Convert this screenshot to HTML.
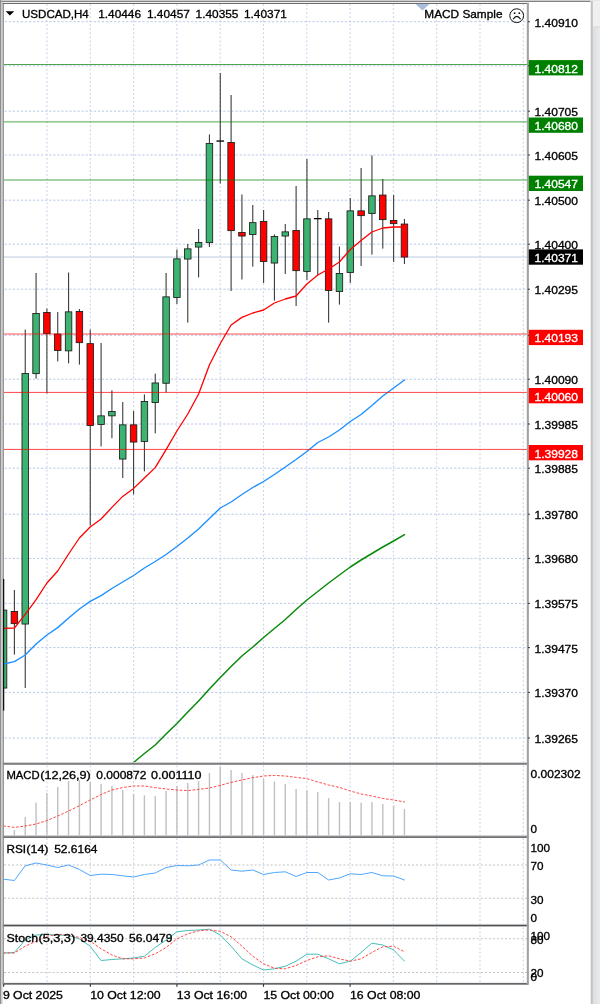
<!DOCTYPE html>
<html><head><meta charset="utf-8"><title>USDCAD,H4</title>
<style>html,body{margin:0;padding:0;background:#fff;}body{width:600px;height:1004px;overflow:hidden;}</style></head>
<body>
<svg width="600" height="1004" viewBox="0 0 600 1004" style="display:block" font-family="'Liberation Sans', sans-serif" font-size="11.7px">
<rect x="0" y="0" width="600" height="1004" fill="#ffffff"/>
<defs><clipPath id="cm"><rect x="3.8" y="4" width="523.7" height="759.2"/></clipPath><clipPath id="call"><rect x="3.8" y="4" width="523.7" height="980"/></clipPath><linearGradient id="rg" x1="0" x2="1" y1="0" y2="0"><stop offset="0" stop-color="#dcdddf"/><stop offset="1" stop-color="#e9eaec"/></linearGradient></defs>
<line x1="47.00" y1="4" x2="47.00" y2="984" stroke="#c6d3ea" stroke-width="1.1" stroke-dasharray="1.75 2.3"/>
<line x1="90.30" y1="4" x2="90.30" y2="984" stroke="#c6d3ea" stroke-width="1.1" stroke-dasharray="1.75 2.3"/>
<line x1="133.60" y1="4" x2="133.60" y2="984" stroke="#c6d3ea" stroke-width="1.1" stroke-dasharray="1.75 2.3"/>
<line x1="176.90" y1="4" x2="176.90" y2="984" stroke="#c6d3ea" stroke-width="1.1" stroke-dasharray="1.75 2.3"/>
<line x1="220.20" y1="4" x2="220.20" y2="984" stroke="#c6d3ea" stroke-width="1.1" stroke-dasharray="1.75 2.3"/>
<line x1="263.50" y1="4" x2="263.50" y2="984" stroke="#c6d3ea" stroke-width="1.1" stroke-dasharray="1.75 2.3"/>
<line x1="306.80" y1="4" x2="306.80" y2="984" stroke="#c6d3ea" stroke-width="1.1" stroke-dasharray="1.75 2.3"/>
<line x1="350.10" y1="4" x2="350.10" y2="984" stroke="#c6d3ea" stroke-width="1.1" stroke-dasharray="1.75 2.3"/>
<line x1="393.40" y1="4" x2="393.40" y2="984" stroke="#c6d3ea" stroke-width="1.1" stroke-dasharray="1.75 2.3"/>
<line x1="436.70" y1="4" x2="436.70" y2="984" stroke="#c6d3ea" stroke-width="1.1" stroke-dasharray="1.75 2.3"/>
<line x1="480.00" y1="4" x2="480.00" y2="984" stroke="#c6d3ea" stroke-width="1.1" stroke-dasharray="1.75 2.3"/>
<line x1="523.30" y1="4" x2="523.30" y2="984" stroke="#c6d3ea" stroke-width="1.1" stroke-dasharray="1.75 2.3"/>
<line x1="4.6" y1="21.70" x2="527.5" y2="21.70" stroke="#bccae5" stroke-width="1.0" stroke-dasharray="2.3 1.75"/>
<line x1="4.6" y1="65.80" x2="527.5" y2="65.80" stroke="#bccae5" stroke-width="1.0" stroke-dasharray="2.3 1.75"/>
<line x1="4.6" y1="111.20" x2="527.5" y2="111.20" stroke="#bccae5" stroke-width="1.0" stroke-dasharray="2.3 1.75"/>
<line x1="4.6" y1="155.00" x2="527.5" y2="155.00" stroke="#bccae5" stroke-width="1.0" stroke-dasharray="2.3 1.75"/>
<line x1="4.6" y1="200.20" x2="527.5" y2="200.20" stroke="#bccae5" stroke-width="1.0" stroke-dasharray="2.3 1.75"/>
<line x1="4.6" y1="244.20" x2="527.5" y2="244.20" stroke="#bccae5" stroke-width="1.0" stroke-dasharray="2.3 1.75"/>
<line x1="4.6" y1="289.20" x2="527.5" y2="289.20" stroke="#bccae5" stroke-width="1.0" stroke-dasharray="2.3 1.75"/>
<line x1="4.6" y1="335.30" x2="527.5" y2="335.30" stroke="#bccae5" stroke-width="1.0" stroke-dasharray="2.3 1.75"/>
<line x1="4.6" y1="379.20" x2="527.5" y2="379.20" stroke="#bccae5" stroke-width="1.0" stroke-dasharray="2.3 1.75"/>
<line x1="4.6" y1="424.00" x2="527.5" y2="424.00" stroke="#bccae5" stroke-width="1.0" stroke-dasharray="2.3 1.75"/>
<line x1="4.6" y1="468.20" x2="527.5" y2="468.20" stroke="#bccae5" stroke-width="1.0" stroke-dasharray="2.3 1.75"/>
<line x1="4.6" y1="514.20" x2="527.5" y2="514.20" stroke="#bccae5" stroke-width="1.0" stroke-dasharray="2.3 1.75"/>
<line x1="4.6" y1="558.40" x2="527.5" y2="558.40" stroke="#bccae5" stroke-width="1.0" stroke-dasharray="2.3 1.75"/>
<line x1="4.6" y1="603.40" x2="527.5" y2="603.40" stroke="#bccae5" stroke-width="1.0" stroke-dasharray="2.3 1.75"/>
<line x1="4.6" y1="647.60" x2="527.5" y2="647.60" stroke="#bccae5" stroke-width="1.0" stroke-dasharray="2.3 1.75"/>
<line x1="4.6" y1="692.40" x2="527.5" y2="692.40" stroke="#bccae5" stroke-width="1.0" stroke-dasharray="2.3 1.75"/>
<line x1="4.6" y1="738.00" x2="527.5" y2="738.00" stroke="#bccae5" stroke-width="1.0" stroke-dasharray="2.3 1.75"/>
<rect x="4" y="256.5" width="523.5" height="1.1" fill="#c3d0e2"/>
<g clip-path="url(#cm)">
<rect x="3.01" y="579.0" width="1.1" height="131.6" fill="#3c3c3c"/>
<rect x="0.31" y="610.05" width="6.5" height="78.00" fill="#3cb371" stroke="#1c1c1c" stroke-width="0.85"/>
<rect x="13.84" y="590.0" width="1.1" height="64.6" fill="#3c3c3c"/>
<rect x="11.14" y="611.45" width="6.5" height="12.20" fill="#ff0000" stroke="#1c1c1c" stroke-width="0.85"/>
<rect x="24.68" y="329.6" width="1.1" height="358.4" fill="#3c3c3c"/>
<rect x="21.98" y="373.45" width="6.5" height="250.60" fill="#3cb371" stroke="#1c1c1c" stroke-width="0.85"/>
<rect x="35.52" y="273.0" width="1.1" height="105.6" fill="#3c3c3c"/>
<rect x="32.81" y="313.45" width="6.5" height="60.20" fill="#3cb371" stroke="#1c1c1c" stroke-width="0.85"/>
<rect x="46.35" y="308.6" width="1.1" height="84.8" fill="#3c3c3c"/>
<rect x="43.65" y="312.45" width="6.5" height="21.20" fill="#ff0000" stroke="#1c1c1c" stroke-width="0.85"/>
<rect x="57.19" y="312.0" width="1.1" height="49.4" fill="#3c3c3c"/>
<rect x="54.48" y="334.05" width="6.5" height="16.40" fill="#ff0000" stroke="#1c1c1c" stroke-width="0.85"/>
<rect x="68.02" y="272.5" width="1.1" height="90.9" fill="#3c3c3c"/>
<rect x="65.32" y="311.85" width="6.5" height="39.00" fill="#3cb371" stroke="#1c1c1c" stroke-width="0.85"/>
<rect x="78.86" y="309.0" width="1.1" height="55.6" fill="#3c3c3c"/>
<rect x="76.16" y="311.45" width="6.5" height="31.20" fill="#ff0000" stroke="#1c1c1c" stroke-width="0.85"/>
<rect x="89.69" y="329.6" width="1.1" height="196.0" fill="#3c3c3c"/>
<rect x="86.99" y="343.65" width="6.5" height="81.80" fill="#ff0000" stroke="#1c1c1c" stroke-width="0.85"/>
<rect x="100.53" y="343.0" width="1.1" height="103.4" fill="#3c3c3c"/>
<rect x="97.83" y="415.85" width="6.5" height="8.60" fill="#3cb371" stroke="#1c1c1c" stroke-width="0.85"/>
<rect x="111.36" y="390.4" width="1.1" height="47.8" fill="#3c3c3c"/>
<rect x="108.66" y="411.45" width="6.5" height="4.40" fill="#3cb371" stroke="#1c1c1c" stroke-width="0.85"/>
<rect x="122.20" y="402.0" width="1.1" height="76.0" fill="#3c3c3c"/>
<rect x="119.50" y="424.85" width="6.5" height="34.20" fill="#3cb371" stroke="#1c1c1c" stroke-width="0.85"/>
<rect x="133.03" y="411.0" width="1.1" height="83.4" fill="#3c3c3c"/>
<rect x="130.33" y="424.85" width="6.5" height="17.20" fill="#ff0000" stroke="#1c1c1c" stroke-width="0.85"/>
<rect x="143.87" y="394.4" width="1.1" height="77.0" fill="#3c3c3c"/>
<rect x="141.17" y="401.45" width="6.5" height="40.00" fill="#3cb371" stroke="#1c1c1c" stroke-width="0.85"/>
<rect x="154.70" y="373.6" width="1.1" height="59.8" fill="#3c3c3c"/>
<rect x="152.00" y="382.95" width="6.5" height="19.50" fill="#3cb371" stroke="#1c1c1c" stroke-width="0.85"/>
<rect x="165.53" y="273.0" width="1.1" height="119.5" fill="#3c3c3c"/>
<rect x="162.84" y="296.85" width="6.5" height="86.40" fill="#3cb371" stroke="#1c1c1c" stroke-width="0.85"/>
<rect x="176.37" y="249.4" width="1.1" height="54.6" fill="#3c3c3c"/>
<rect x="173.67" y="258.85" width="6.5" height="38.60" fill="#3cb371" stroke="#1c1c1c" stroke-width="0.85"/>
<rect x="187.21" y="244.0" width="1.1" height="78.6" fill="#3c3c3c"/>
<rect x="184.51" y="248.85" width="6.5" height="10.20" fill="#3cb371" stroke="#1c1c1c" stroke-width="0.85"/>
<rect x="198.04" y="229.0" width="1.1" height="48.4" fill="#3c3c3c"/>
<rect x="195.34" y="242.45" width="6.5" height="4.60" fill="#3cb371" stroke="#1c1c1c" stroke-width="0.85"/>
<rect x="208.88" y="134.4" width="1.1" height="112.6" fill="#3c3c3c"/>
<rect x="206.18" y="143.45" width="6.5" height="99.20" fill="#3cb371" stroke="#1c1c1c" stroke-width="0.85"/>
<rect x="219.71" y="73.0" width="1.1" height="110.4" fill="#3c3c3c"/>
<rect x="216.46" y="140.4" width="7.6" height="1.3" fill="#000"/>
<rect x="230.55" y="95.0" width="1.1" height="196.0" fill="#3c3c3c"/>
<rect x="227.85" y="142.45" width="6.5" height="88.20" fill="#ff0000" stroke="#1c1c1c" stroke-width="0.85"/>
<rect x="241.38" y="194.5" width="1.1" height="85.0" fill="#3c3c3c"/>
<rect x="238.68" y="232.45" width="6.5" height="3.60" fill="#ff0000" stroke="#1c1c1c" stroke-width="0.85"/>
<rect x="252.22" y="205.0" width="1.1" height="61.6" fill="#3c3c3c"/>
<rect x="249.52" y="222.65" width="6.5" height="11.80" fill="#3cb371" stroke="#1c1c1c" stroke-width="0.85"/>
<rect x="263.05" y="210.0" width="1.1" height="73.0" fill="#3c3c3c"/>
<rect x="260.35" y="221.45" width="6.5" height="40.00" fill="#ff0000" stroke="#1c1c1c" stroke-width="0.85"/>
<rect x="273.88" y="234.4" width="1.1" height="66.2" fill="#3c3c3c"/>
<rect x="271.19" y="236.45" width="6.5" height="26.60" fill="#3cb371" stroke="#1c1c1c" stroke-width="0.85"/>
<rect x="284.72" y="224.0" width="1.1" height="50.0" fill="#3c3c3c"/>
<rect x="282.02" y="231.85" width="6.5" height="4.20" fill="#3cb371" stroke="#1c1c1c" stroke-width="0.85"/>
<rect x="295.56" y="186.0" width="1.1" height="120.0" fill="#3c3c3c"/>
<rect x="292.86" y="230.45" width="6.5" height="40.20" fill="#ff0000" stroke="#1c1c1c" stroke-width="0.85"/>
<rect x="306.39" y="159.0" width="1.1" height="121.0" fill="#3c3c3c"/>
<rect x="303.69" y="218.85" width="6.5" height="52.60" fill="#3cb371" stroke="#1c1c1c" stroke-width="0.85"/>
<rect x="317.22" y="210.0" width="1.1" height="65.0" fill="#3c3c3c"/>
<rect x="313.97" y="218.0" width="7.6" height="1.3" fill="#000"/>
<rect x="328.06" y="212.0" width="1.1" height="110.6" fill="#3c3c3c"/>
<rect x="325.36" y="218.85" width="6.5" height="71.60" fill="#ff0000" stroke="#1c1c1c" stroke-width="0.85"/>
<rect x="338.89" y="246.6" width="1.1" height="58.0" fill="#3c3c3c"/>
<rect x="336.19" y="273.45" width="6.5" height="18.00" fill="#3cb371" stroke="#1c1c1c" stroke-width="0.85"/>
<rect x="349.73" y="198.0" width="1.1" height="85.0" fill="#3c3c3c"/>
<rect x="347.03" y="210.85" width="6.5" height="61.70" fill="#3cb371" stroke="#1c1c1c" stroke-width="0.85"/>
<rect x="360.56" y="168.0" width="1.1" height="98.0" fill="#3c3c3c"/>
<rect x="357.87" y="210.85" width="6.5" height="4.80" fill="#ff0000" stroke="#1c1c1c" stroke-width="0.85"/>
<rect x="371.40" y="155.4" width="1.1" height="99.2" fill="#3c3c3c"/>
<rect x="368.70" y="195.85" width="6.5" height="17.60" fill="#3cb371" stroke="#1c1c1c" stroke-width="0.85"/>
<rect x="382.24" y="179.0" width="1.1" height="69.6" fill="#3c3c3c"/>
<rect x="379.54" y="195.05" width="6.5" height="24.60" fill="#ff0000" stroke="#1c1c1c" stroke-width="0.85"/>
<rect x="393.07" y="195.0" width="1.1" height="67.0" fill="#3c3c3c"/>
<rect x="390.37" y="220.45" width="6.5" height="3.20" fill="#ff0000" stroke="#1c1c1c" stroke-width="0.85"/>
<rect x="403.90" y="219.0" width="1.1" height="45.0" fill="#3c3c3c"/>
<rect x="401.20" y="224.05" width="6.5" height="33.00" fill="#ff0000" stroke="#1c1c1c" stroke-width="0.85"/>
<polyline points="122.7,772.0 133.6,762.5 144.4,753.5 155.2,745.0 166.1,734.0 176.9,723.5 187.8,712.0 198.6,701.0 209.4,689.0 220.3,677.5 231.1,666.5 241.9,656.0 252.8,647.0 263.6,637.5 274.4,628.5 285.3,619.5 296.1,609.5 306.9,600.0 317.8,591.5 328.6,583.0 339.4,575.0 350.3,567.0 361.1,560.0 371.9,553.5 382.8,547.0 393.6,541.0 404.5,534.6" fill="none" stroke="#0a8a0a" stroke-width="1.5" stroke-linejoin="round" stroke-linecap="round" />
<polyline points="3.6,664.0 14.4,661.6 25.2,655.0 36.1,644.0 46.9,635.0 57.7,627.6 68.6,618.0 79.4,609.0 90.2,601.4 101.1,595.6 111.9,588.5 122.7,582.0 133.6,575.5 144.4,568.0 155.2,561.5 166.1,554.5 176.9,546.5 187.8,538.0 198.6,529.0 209.4,518.5 220.3,508.0 231.1,502.0 241.9,494.5 252.8,487.5 263.6,481.5 274.4,474.5 285.3,467.0 296.1,459.5 306.9,451.5 317.8,442.5 328.6,437.0 339.4,430.0 350.3,421.5 361.1,414.5 371.9,405.5 382.8,396.0 393.6,388.0 404.5,380.0" fill="none" stroke="#1e90ff" stroke-width="1.4" stroke-linejoin="round" stroke-linecap="round" />
<polyline points="3.6,628.4 14.4,628.0 25.2,614.4 36.1,599.6 46.9,583.0 57.7,571.0 68.6,554.0 79.4,538.0 90.2,527.0 101.1,519.0 111.9,507.4 122.7,496.4 133.6,488.4 144.4,478.0 155.2,467.6 166.1,449.6 176.9,431.0 187.8,414.0 198.6,394.0 209.4,365.0 220.3,343.5 231.1,325.0 241.9,317.4 252.8,313.0 263.6,310.0 274.4,303.0 285.3,299.0 296.1,296.0 306.9,284.0 317.8,275.0 328.6,269.0 339.4,262.0 350.3,249.5 361.1,240.6 371.9,232.0 382.8,228.0 393.6,227.0 404.5,227.0" fill="none" stroke="#ff0000" stroke-width="1.3" stroke-linejoin="round" stroke-linecap="round" />
</g>
<rect x="4" y="64.05" width="523.5" height="0.9" fill="#008000" fill-opacity="0.78"/>
<rect x="4" y="120.95" width="523.5" height="1.7" fill="#008000" fill-opacity="0.42"/>
<rect x="4" y="179.15" width="523.5" height="1.7" fill="#008000" fill-opacity="0.42"/>
<rect x="4" y="333.25" width="523.5" height="1.5" fill="#ff0000" fill-opacity="0.46"/>
<rect x="4" y="391.90" width="523.5" height="1.0" fill="#ff0000" fill-opacity="0.72"/>
<rect x="4" y="448.90" width="523.5" height="1.0" fill="#ff0000" fill-opacity="0.72"/>
<g clip-path="url(#call)">
<rect x="13.69" y="830.0" width="1.4" height="5.6" fill="#c0c0c0"/>
<rect x="24.53" y="817.0" width="1.4" height="18.6" fill="#c0c0c0"/>
<rect x="35.36" y="802.6" width="1.4" height="33.0" fill="#c0c0c0"/>
<rect x="46.20" y="793.0" width="1.4" height="42.6" fill="#c0c0c0"/>
<rect x="57.03" y="787.0" width="1.4" height="48.6" fill="#c0c0c0"/>
<rect x="67.87" y="781.0" width="1.4" height="54.6" fill="#c0c0c0"/>
<rect x="78.70" y="780.0" width="1.4" height="55.6" fill="#c0c0c0"/>
<rect x="89.54" y="782.0" width="1.4" height="53.6" fill="#c0c0c0"/>
<rect x="100.38" y="784.0" width="1.4" height="51.6" fill="#c0c0c0"/>
<rect x="111.21" y="786.0" width="1.4" height="49.6" fill="#c0c0c0"/>
<rect x="122.05" y="790.0" width="1.4" height="45.6" fill="#c0c0c0"/>
<rect x="132.88" y="794.0" width="1.4" height="41.6" fill="#c0c0c0"/>
<rect x="143.72" y="795.4" width="1.4" height="40.2" fill="#c0c0c0"/>
<rect x="154.55" y="796.0" width="1.4" height="39.6" fill="#c0c0c0"/>
<rect x="165.39" y="791.0" width="1.4" height="44.6" fill="#c0c0c0"/>
<rect x="176.22" y="786.0" width="1.4" height="49.6" fill="#c0c0c0"/>
<rect x="187.06" y="783.0" width="1.4" height="52.6" fill="#c0c0c0"/>
<rect x="197.89" y="781.0" width="1.4" height="54.6" fill="#c0c0c0"/>
<rect x="208.73" y="773.0" width="1.4" height="62.6" fill="#c0c0c0"/>
<rect x="219.56" y="767.0" width="1.4" height="68.6" fill="#c0c0c0"/>
<rect x="230.40" y="770.0" width="1.4" height="65.6" fill="#c0c0c0"/>
<rect x="241.23" y="773.0" width="1.4" height="62.6" fill="#c0c0c0"/>
<rect x="252.07" y="775.0" width="1.4" height="60.6" fill="#c0c0c0"/>
<rect x="262.90" y="779.0" width="1.4" height="56.6" fill="#c0c0c0"/>
<rect x="273.74" y="781.6" width="1.4" height="54.0" fill="#c0c0c0"/>
<rect x="284.57" y="784.0" width="1.4" height="51.6" fill="#c0c0c0"/>
<rect x="295.41" y="789.0" width="1.4" height="46.6" fill="#c0c0c0"/>
<rect x="306.24" y="790.6" width="1.4" height="45.0" fill="#c0c0c0"/>
<rect x="317.07" y="792.0" width="1.4" height="43.6" fill="#c0c0c0"/>
<rect x="327.91" y="798.0" width="1.4" height="37.6" fill="#c0c0c0"/>
<rect x="338.75" y="802.0" width="1.4" height="33.6" fill="#c0c0c0"/>
<rect x="349.58" y="802.0" width="1.4" height="33.6" fill="#c0c0c0"/>
<rect x="360.42" y="802.6" width="1.4" height="33.0" fill="#c0c0c0"/>
<rect x="371.25" y="802.0" width="1.4" height="33.6" fill="#c0c0c0"/>
<rect x="382.09" y="804.0" width="1.4" height="31.6" fill="#c0c0c0"/>
<rect x="392.92" y="805.4" width="1.4" height="30.2" fill="#c0c0c0"/>
<rect x="403.75" y="809.0" width="1.4" height="26.6" fill="#c0c0c0"/>
<polyline points="3.6,826.0 14.4,827.4 25.2,826.0 36.1,824.0 46.9,820.6 57.7,816.0 68.6,811.0 79.4,805.6 90.2,800.0 101.1,794.6 111.9,790.0 122.7,787.6 133.6,786.0 144.4,786.0 155.2,787.6 166.1,789.0 176.9,790.0 187.8,790.6 198.6,789.4 209.4,788.0 220.3,785.4 231.1,782.4 241.9,780.0 252.8,777.6 263.6,776.0 274.4,775.4 285.3,776.0 296.1,777.4 306.9,778.6 317.8,782.0 328.6,785.0 339.4,787.4 350.3,791.0 361.1,794.0 371.9,796.0 382.8,798.4 393.6,800.0 404.5,802.0" fill="none" stroke="#ff4040" stroke-width="0.95" stroke-linejoin="round" stroke-linecap="round" stroke-dasharray="1.9 2.4" stroke-linecap="butt"/>
<line x1="4" y1="865" x2="527.5" y2="865" stroke="#c4c4c4" stroke-width="1.05" stroke-dasharray="2.1 1.94"/>
<line x1="4" y1="898.2" x2="527.5" y2="898.2" stroke="#c4c4c4" stroke-width="1.05" stroke-dasharray="2.1 1.94"/>
<polyline points="3.6,879.2 14.4,880.5 25.2,865.8 36.1,863.0 46.9,865.0 57.7,867.5 68.6,865.0 79.4,869.5 90.2,875.5 101.1,874.2 111.9,874.5 122.7,875.8 133.6,877.0 144.4,874.5 155.2,873.0 166.1,867.5 176.9,865.5 187.8,865.8 198.6,865.0 209.4,860.0 220.3,860.0 231.1,870.0 241.9,871.2 252.8,870.0 263.6,874.5 274.4,872.5 285.3,871.8 296.1,876.5 306.9,872.5 317.8,872.5 328.6,880.0 339.4,878.0 350.3,873.8 361.1,874.5 371.9,872.5 382.8,875.8 393.6,876.0 404.5,880.0" fill="none" stroke="#45a1ff" stroke-width="0.95" stroke-linejoin="round" stroke-linecap="round" />
<line x1="4" y1="938.7" x2="527.5" y2="938.7" stroke="#c4c4c4" stroke-width="1.05" stroke-dasharray="2.1 1.94"/>
<line x1="4" y1="972.5" x2="527.5" y2="972.5" stroke="#c4c4c4" stroke-width="1.05" stroke-dasharray="2.1 1.94"/>
<polyline points="3.6,953.0 14.4,952.5 25.2,940.0 36.1,935.0 46.9,934.5 57.7,935.0 68.6,935.5 79.4,938.8 90.2,946.2 101.1,960.5 111.9,959.5 122.7,958.8 133.6,958.0 144.4,956.2 155.2,947.5 166.1,940.0 176.9,931.8 187.8,930.5 198.6,930.0 209.4,929.2 220.3,935.0 231.1,946.2 241.9,958.8 252.8,965.0 263.6,970.0 274.4,968.8 285.3,966.2 296.1,961.2 306.9,954.2 317.8,954.2 328.6,958.8 339.4,963.8 350.3,961.2 361.1,952.5 371.9,943.2 382.8,945.0 393.6,950.0 404.5,961.2" fill="none" stroke="#3dbbb3" stroke-width="0.95" stroke-linejoin="round" stroke-linecap="round" />
<polyline points="3.6,953.0 14.4,953.0 25.2,946.2 36.1,941.2 46.9,936.2 57.7,934.5 68.6,935.0 79.4,937.5 90.2,941.2 101.1,948.8 111.9,955.0 122.7,958.8 133.6,958.8 144.4,958.0 155.2,953.8 166.1,947.5 176.9,938.8 187.8,933.8 198.6,930.8 209.4,930.0 220.3,931.2 231.1,936.8 241.9,946.2 252.8,956.2 263.6,963.8 274.4,968.2 285.3,968.8 296.1,965.5 306.9,960.5 317.8,956.8 328.6,955.8 339.4,958.8 350.3,961.2 361.1,958.8 371.9,952.5 382.8,946.8 393.6,946.2 404.5,951.8" fill="none" stroke="#ff4040" stroke-width="0.95" stroke-linejoin="round" stroke-linecap="round" stroke-dasharray="1.9 2.4" stroke-linecap="butt"/>
</g>
<rect x="2.6" y="762.2" width="526" height="1.10" fill="#c6c9cc"/>
<rect x="2.6" y="763.3" width="526" height="1.30" fill="#505050"/>
<rect x="2.6" y="835.2" width="526" height="1.20" fill="#c6c9cc"/>
<rect x="2.6" y="836.4" width="526" height="1.40" fill="#505050"/>
<rect x="2.6" y="923.9" width="526" height="1.00" fill="#c6c9cc"/>
<rect x="2.6" y="924.9" width="526" height="1.50" fill="#505050"/>
<rect x="2.6" y="982.9" width="526" height="1.8" fill="#63676c"/>
<rect x="0" y="0" width="600" height="0.8" fill="#dedede"/>
<rect x="0" y="0.8" width="590.5" height="1.1" fill="#767676"/>
<rect x="0" y="0" width="1.0" height="1004" fill="#8e8e8e"/>
<rect x="1.0" y="1.9" width="1.6" height="1003" fill="#cdcdcd"/>
<rect x="2.6" y="2.9" width="1.3" height="981.2" fill="#8c8c8c"/>
<rect x="2.6" y="2.9" width="526" height="1.1" fill="#6e6e6e"/>
<rect x="526.8" y="2.9" width="2.1" height="981.2" fill="#a2a2a2"/>
<rect x="3.0" y="579" width="1.2" height="131.6" fill="#111"/>
<rect x="590.6" y="0.8" width="9.4" height="1004" fill="#f0f0f0"/>
<rect x="592.6" y="27.3" width="7.4" height="977" fill="url(#rg)"/>
<rect x="591" y="26.5" width="9" height="1" fill="#d6d6d6"/>
<rect x="590.8" y="1" width="2" height="1003" fill="#c2c3c5"/>
<path d="M5.6,11.2 L14.2,11.2 L9.9,15.6 Z" fill="#000"/>
<text x="22" y="17.6" fill="#000" stroke="#000" stroke-width="0.33" textLength="66.8" lengthAdjust="spacingAndGlyphs">USDCAD,H4</text>
<text x="98.2" y="17.6" fill="#000" stroke="#000" stroke-width="0.33" textLength="42.8" lengthAdjust="spacingAndGlyphs">1.40446</text>
<text x="147" y="17.6" fill="#000" stroke="#000" stroke-width="0.33" textLength="42.8" lengthAdjust="spacingAndGlyphs">1.40457</text>
<text x="195.6" y="17.6" fill="#000" stroke="#000" stroke-width="0.33" textLength="42.8" lengthAdjust="spacingAndGlyphs">1.40355</text>
<text x="244" y="17.6" fill="#000" stroke="#000" stroke-width="0.33" textLength="42.8" lengthAdjust="spacingAndGlyphs">1.40371</text>
<path d="M415.5,4 L429.5,4 L422.5,10.6 Z" fill="#a9bcdc"/>
<text x="424.3" y="18.3" fill="#000" stroke="#000" stroke-width="0.33" textLength="78.2" lengthAdjust="spacingAndGlyphs">MACD Sample</text>
<g fill="none" stroke="#111" stroke-width="1"><circle cx="516.7" cy="15.7" r="6.9"/><path d="M513.1,19.3 Q516.8,13.4 520.6,19.3" stroke-width="1.1"/></g>
<circle cx="514.6" cy="13.2" r="0.9" fill="#111"/><circle cx="519.3" cy="13.2" r="0.9" fill="#111"/>
<rect x="527.9" y="21.2" width="2.0" height="1" fill="#333"/>
<text x="534.5" y="26.75" fill="#000" stroke="#000" stroke-width="0.33" textLength="43.5" lengthAdjust="spacingAndGlyphs">1.40910</text>
<rect x="527.9" y="65.3" width="2.0" height="1" fill="#333"/>
<rect x="527.9" y="110.7" width="2.0" height="1" fill="#333"/>
<text x="534.5" y="116.25" fill="#000" stroke="#000" stroke-width="0.33" textLength="43.5" lengthAdjust="spacingAndGlyphs">1.40705</text>
<rect x="527.9" y="154.5" width="2.0" height="1" fill="#333"/>
<text x="534.5" y="160.05" fill="#000" stroke="#000" stroke-width="0.33" textLength="43.5" lengthAdjust="spacingAndGlyphs">1.40605</text>
<rect x="527.9" y="199.7" width="2.0" height="1" fill="#333"/>
<text x="534.5" y="205.25" fill="#000" stroke="#000" stroke-width="0.33" textLength="43.5" lengthAdjust="spacingAndGlyphs">1.40500</text>
<rect x="527.9" y="243.7" width="2.0" height="1" fill="#333"/>
<text x="534.5" y="249.25" fill="#000" stroke="#000" stroke-width="0.33" textLength="43.5" lengthAdjust="spacingAndGlyphs">1.40400</text>
<rect x="527.9" y="288.7" width="2.0" height="1" fill="#333"/>
<text x="534.5" y="294.25" fill="#000" stroke="#000" stroke-width="0.33" textLength="43.5" lengthAdjust="spacingAndGlyphs">1.40295</text>
<rect x="527.9" y="334.8" width="2.0" height="1" fill="#333"/>
<rect x="527.9" y="378.7" width="2.0" height="1" fill="#333"/>
<text x="534.5" y="384.25" fill="#000" stroke="#000" stroke-width="0.33" textLength="43.5" lengthAdjust="spacingAndGlyphs">1.40090</text>
<rect x="527.9" y="423.5" width="2.0" height="1" fill="#333"/>
<text x="534.5" y="429.05" fill="#000" stroke="#000" stroke-width="0.33" textLength="43.5" lengthAdjust="spacingAndGlyphs">1.39985</text>
<rect x="527.9" y="467.7" width="2.0" height="1" fill="#333"/>
<text x="534.5" y="473.25" fill="#000" stroke="#000" stroke-width="0.33" textLength="43.5" lengthAdjust="spacingAndGlyphs">1.39885</text>
<rect x="527.9" y="513.7" width="2.0" height="1" fill="#333"/>
<text x="534.5" y="519.25" fill="#000" stroke="#000" stroke-width="0.33" textLength="43.5" lengthAdjust="spacingAndGlyphs">1.39780</text>
<rect x="527.9" y="557.9" width="2.0" height="1" fill="#333"/>
<text x="534.5" y="563.45" fill="#000" stroke="#000" stroke-width="0.33" textLength="43.5" lengthAdjust="spacingAndGlyphs">1.39680</text>
<rect x="527.9" y="602.9" width="2.0" height="1" fill="#333"/>
<text x="534.5" y="608.45" fill="#000" stroke="#000" stroke-width="0.33" textLength="43.5" lengthAdjust="spacingAndGlyphs">1.39575</text>
<rect x="527.9" y="647.1" width="2.0" height="1" fill="#333"/>
<text x="534.5" y="652.65" fill="#000" stroke="#000" stroke-width="0.33" textLength="43.5" lengthAdjust="spacingAndGlyphs">1.39475</text>
<rect x="527.9" y="691.9" width="2.0" height="1" fill="#333"/>
<text x="534.5" y="697.45" fill="#000" stroke="#000" stroke-width="0.33" textLength="43.5" lengthAdjust="spacingAndGlyphs">1.39370</text>
<rect x="527.9" y="737.5" width="2.0" height="1" fill="#333"/>
<text x="534.5" y="743.05" fill="#000" stroke="#000" stroke-width="0.33" textLength="43.5" lengthAdjust="spacingAndGlyphs">1.39265</text>
<rect x="528.8" y="60.1" width="54.2" height="15.3" fill="#008000"/>
<text x="534.5" y="72.85" fill="#fff" stroke="#fff" stroke-width="0.33" textLength="43.5" lengthAdjust="spacingAndGlyphs">1.40812</text>
<rect x="528.8" y="117.5" width="54.2" height="15.3" fill="#008000"/>
<text x="534.5" y="130.15" fill="#fff" stroke="#fff" stroke-width="0.33" textLength="43.5" lengthAdjust="spacingAndGlyphs">1.40680</text>
<rect x="528.8" y="175.7" width="54.2" height="15.3" fill="#008000"/>
<text x="534.5" y="188.35" fill="#fff" stroke="#fff" stroke-width="0.33" textLength="43.5" lengthAdjust="spacingAndGlyphs">1.40547</text>
<rect x="528.8" y="329.8" width="54.2" height="15.3" fill="#ff0000"/>
<text x="534.5" y="342.45" fill="#fff" stroke="#fff" stroke-width="0.33" textLength="43.5" lengthAdjust="spacingAndGlyphs">1.40193</text>
<rect x="528.8" y="388.0" width="54.2" height="15.3" fill="#ff0000"/>
<text x="534.5" y="400.75" fill="#fff" stroke="#fff" stroke-width="0.33" textLength="43.5" lengthAdjust="spacingAndGlyphs">1.40060</text>
<rect x="528.8" y="445.0" width="54.2" height="15.3" fill="#ff0000"/>
<text x="534.5" y="457.75" fill="#fff" stroke="#fff" stroke-width="0.33" textLength="43.5" lengthAdjust="spacingAndGlyphs">1.39928</text>
<rect x="528.8" y="249.4" width="54.2" height="15.3" fill="#000000"/>
<text x="534.5" y="262.25" fill="#fff" stroke="#fff" stroke-width="0.33" textLength="43.5" lengthAdjust="spacingAndGlyphs">1.40371</text>
<text x="6.4" y="779.4" fill="#000" stroke="#000" stroke-width="0.33" textLength="33.2" lengthAdjust="spacingAndGlyphs">MACD</text>
<text x="40.2" y="779.4" fill="#000" stroke="#000" stroke-width="0.33" textLength="50.6" lengthAdjust="spacingAndGlyphs">(12,26,9)</text>
<text x="96.3" y="779.4" fill="#000" stroke="#000" stroke-width="0.33" textLength="50" lengthAdjust="spacingAndGlyphs">0.000872</text>
<text x="151.1" y="779.4" fill="#000" stroke="#000" stroke-width="0.33" textLength="50.3" lengthAdjust="spacingAndGlyphs">0.001110</text>
<text x="530.6" y="778.2" fill="#000" stroke="#000" stroke-width="0.33" textLength="50" lengthAdjust="spacingAndGlyphs">0.002302</text>
<text x="530.6" y="832.5" fill="#000" stroke="#000" stroke-width="0.33">0</text>
<text x="6.5" y="853.0" fill="#000" stroke="#000" stroke-width="0.33" textLength="19.6" lengthAdjust="spacingAndGlyphs">RSI</text>
<text x="26.3" y="853.0" fill="#000" stroke="#000" stroke-width="0.33" textLength="22.2" lengthAdjust="spacingAndGlyphs">(14)</text>
<text x="54.2" y="853.0" fill="#000" stroke="#000" stroke-width="0.33" textLength="43.3" lengthAdjust="spacingAndGlyphs">52.6164</text>
<text x="530.6" y="851.6" fill="#000" stroke="#000" stroke-width="0.33">100</text>
<text x="530.6" y="870.2" fill="#000" stroke="#000" stroke-width="0.33">70</text>
<text x="530.6" y="904.0" fill="#000" stroke="#000" stroke-width="0.33">30</text>
<text x="530.6" y="921.5" fill="#000" stroke="#000" stroke-width="0.33">0</text>
<text x="6.6" y="941.6" fill="#000" stroke="#000" stroke-width="0.33" textLength="31.5" lengthAdjust="spacingAndGlyphs">Stoch</text>
<text x="38.4" y="941.6" fill="#000" stroke="#000" stroke-width="0.33" textLength="36.8" lengthAdjust="spacingAndGlyphs">(5,3,3)</text>
<text x="80.4" y="941.6" fill="#000" stroke="#000" stroke-width="0.33" textLength="43.2" lengthAdjust="spacingAndGlyphs">39.4350</text>
<text x="129" y="941.6" fill="#000" stroke="#000" stroke-width="0.33" textLength="43.5" lengthAdjust="spacingAndGlyphs">56.0479</text>
<text x="530.6" y="940.0" fill="#000" stroke="#000" stroke-width="0.33">100</text>
<text x="530.6" y="944.0" fill="#000" stroke="#000" stroke-width="0.33">80</text>
<text x="530.6" y="977.0" fill="#000" stroke="#000" stroke-width="0.33">20</text>
<text x="530.6" y="980.5" fill="#000" stroke="#000" stroke-width="0.33">0</text>
<rect x="3.15" y="984" width="1.1" height="2.8" fill="#333"/>
<text x="2.9" y="998.7" fill="#000" stroke="#000" stroke-width="0.33" textLength="60" lengthAdjust="spacingAndGlyphs">9 Oct 2025</text>
<rect x="89.75" y="984" width="1.1" height="2.8" fill="#333"/>
<text x="90.2" y="998.7" fill="#000" stroke="#000" stroke-width="0.33" textLength="70.4" lengthAdjust="spacingAndGlyphs">10 Oct 12:00</text>
<rect x="176.35" y="984" width="1.1" height="2.8" fill="#333"/>
<text x="176.8" y="998.7" fill="#000" stroke="#000" stroke-width="0.33" textLength="70.4" lengthAdjust="spacingAndGlyphs">13 Oct 16:00</text>
<rect x="262.95" y="984" width="1.1" height="2.8" fill="#333"/>
<text x="263.4" y="998.7" fill="#000" stroke="#000" stroke-width="0.33" textLength="70.4" lengthAdjust="spacingAndGlyphs">15 Oct 00:00</text>
<rect x="349.55" y="984" width="1.1" height="2.8" fill="#333"/>
<text x="350.0" y="998.7" fill="#000" stroke="#000" stroke-width="0.33" textLength="70.4" lengthAdjust="spacingAndGlyphs">16 Oct 08:00</text>
</svg>
</body></html>
